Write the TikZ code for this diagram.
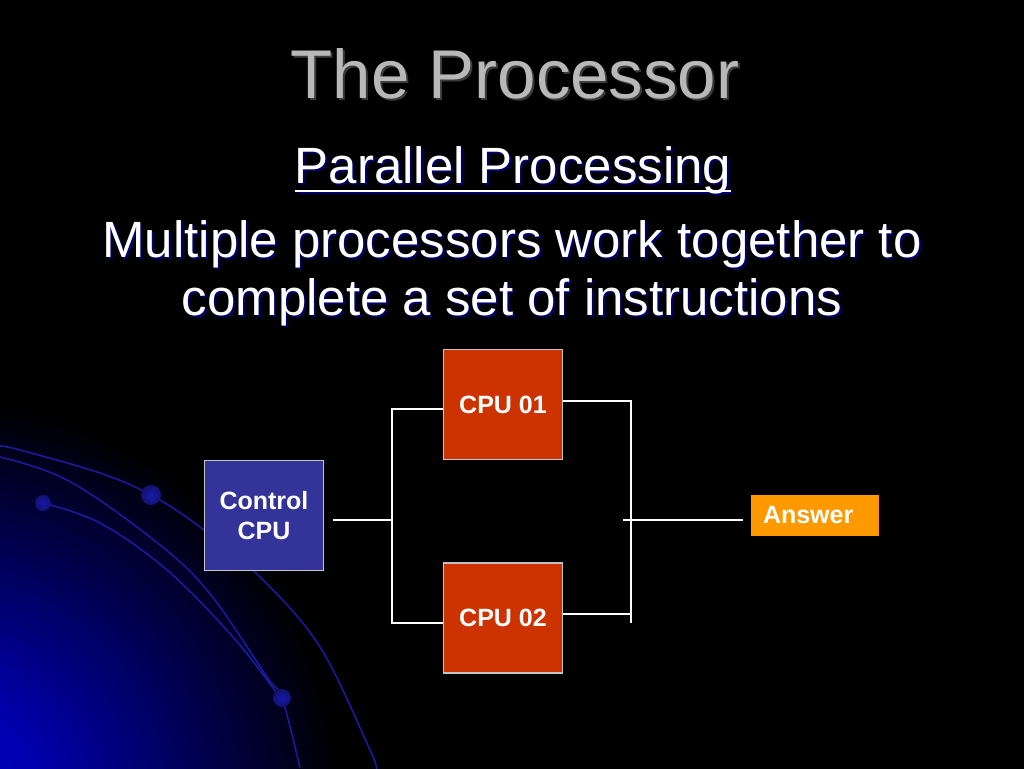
\documentclass[tikz,border=0pt]{standalone}
\usepackage{fontspec}
\setmainfont{Liberation Sans}
\usepackage{tikz}
\usetikzlibrary{positioning}

\definecolor{cpured}{HTML}{CC3300}
\definecolor{ctlblue}{HTML}{333399}
\definecolor{ansorange}{HTML}{FF9900}
\definecolor{rimgray}{HTML}{C4C4C4}
\definecolor{arcblue}{HTML}{1A1A9E}
\definecolor{dotblue}{HTML}{1818B0}
\definecolor{glowblue}{HTML}{0000C4}
\definecolor{shadowblue}{HTML}{00006A}
\definecolor{titlegray}{HTML}{B8B8B8}
\definecolor{titleshadow}{HTML}{3A3A3A}

\pgfdeclareradialshading{glow}{\pgfpoint{0bp}{0bp}}{color(0bp)=(glowblue); color(6bp)=(glowblue!90!black); color(25bp)=(black); color(50bp)=(black)}

\begin{document}
\begin{tikzpicture}[x=1pt,y=-1pt]
  \tikzset{cpu/.style = {shape=rectangle,draw=rimgray,line width=1.2pt,fill=cpured,minimum width=119pt,minimum height=110pt,inner sep=0pt,text=white,align=center,font=\fontsize{25}{30}\selectfont\bfseries}}
  \tikzset{ctl/.style = {cpu,fill=ctlblue}}
  \tikzset{answer/.style = {shape=rectangle,fill=ansorange,minimum height=41pt,text width=104pt,inner xsep=12pt,inner ysep=0pt,text=white,align=left,font=\fontsize{25}{30}\selectfont\bfseries}}
  \tikzset{wire/.style = {draw=white,line width=1.1pt}}
  \tikzset{arc/.style = {draw=arcblue,line width=1.6pt}}
  \tikzset{dot/.style = {inner color=dotblue,outer color=arcblue!70!black}}
  \tikzset{head/.style = {anchor=base,inner sep=0pt,text=white,font=\fontsize{51}{58}\selectfont}}

  \useasboundingbox (0,0) rectangle (1024,768);
  \fill[black] (-6,-6) rectangle (1030,774);

  % glow and arcs
  \begin{scope}
    \clip (0,0) rectangle (1024,768);
    \shade[shading=glow] (-60,800) circle (400);
    \draw[arc] plot[smooth,tension=0.6] coordinates {(0,446) (20,450) (100,473) (151,495) (200,527) (260,577) (320,647) (370,750) (376,768)};
    \draw[arc] plot[smooth,tension=0.6] coordinates {(0,457) (67,480) (150,537) (207,590) (267,677) (282,698) (300,768)};
    \draw[arc] plot[smooth,tension=0.6] coordinates {(43,503) (100,523) (167,570) (233,637) (277,693) (282,698)};
    \shade[dot] (151,495) circle (10);
    \shade[dot] (43,503) circle (8);
    \shade[dot] (282,698) circle (9);
  \end{scope}

  % headings
  \node[head,text=titleshadow,font=\fontsize{69}{69}\selectfont] (TitleS) at (517,100) {The Processor};
  \node[head,text=titlegray,font=\fontsize{69}{69}\selectfont] (Title) at (515,98) {The Processor};

  \node[head,text=shadowblue] (SubS) at (515,185) {Parallel Processing};
  \draw[shadowblue,line width=2.5pt] ([yshift=-8pt]SubS.base west) -- ([yshift=-8pt]SubS.base east);
  \node[head] (Sub) at (513,183) {Parallel Processing};
  \draw[white,line width=2.5pt] ([yshift=-8pt]Sub.base west) -- ([yshift=-8pt]Sub.base east);

  \foreach \txt/\yy [count=\i] in {Multiple processors work together to/257, complete a set of instructions/315} {
    \node[head,text=shadowblue] (LineS\i) at (514,\yy+2) {\txt};
    \node[head] (Line\i) at (512,\yy) {\txt};
  }

  % boxes
  \node[ctl] (C) at (264,515.5) {Control\\CPU};
  \node[cpu] (C1) at (503,404.5) {CPU 01};
  \node[cpu] (C2) at (503,618) {CPU 02};
  \node[answer] (A) at (815,515.5) {Answer};

  \coordinate (Lsplit) at (392,520);
  \coordinate (Ltop) at (392,409);
  \coordinate (Lbot) at (392,623);
  \coordinate (Rtop) at (631,401);
  \coordinate (Rbot) at (631,623);
  \coordinate (Rlow) at (631,614);
  \coordinate (Rmid) at (623,520);

  \draw[wire,shorten <=9pt] (C.east |- Lsplit) -- (Lsplit);
  \draw[wire] (C1.west |- Ltop) -- (Ltop) -- (Lbot) -- (C2.west |- Lbot);
  \draw[wire] (C1.east |- Rtop) -- (Rtop) -- (Rbot);
  \draw[wire] (C2.east |- Rlow) -- (Rlow);
  \draw[wire,shorten >=8pt] (Rmid) -- (A.west |- Rmid);

\end{tikzpicture}
\end{document}
